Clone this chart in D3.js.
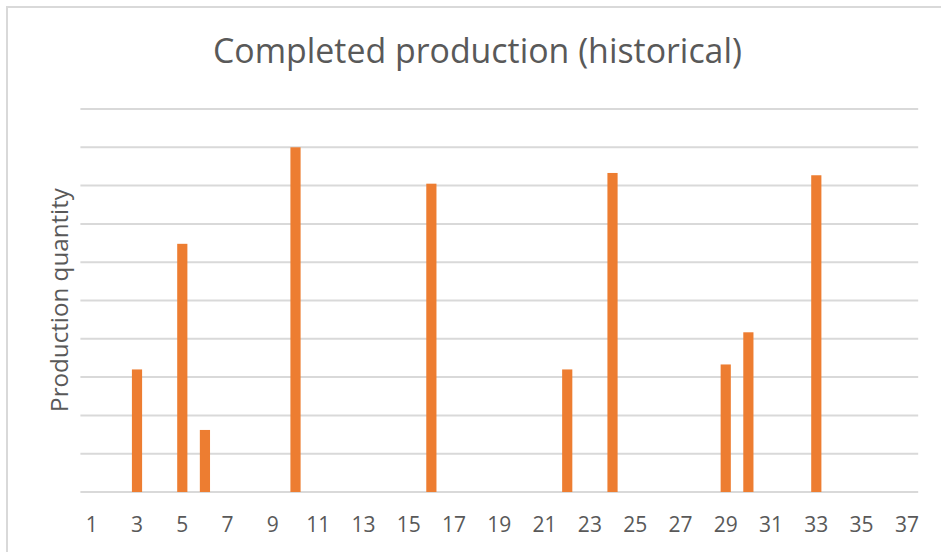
<!DOCTYPE html>
<html>
<head>
<meta charset="utf-8">
<script src="https://cdn.jsdelivr.net/npm/d3@7"></script>
<style>
  html, body { margin: 0; padding: 0; background: #ffffff; }
  svg { display: block; }
</style>
</head>
<body>
<script>
const title = "Completed production (historical)";
const yLabel = "Production quantity";
const categories = ["1","2","3","4","5","6","7","8","9","10","11","12","13","14","15","16","17","18","19","20","21","22","23","24","25","26","27","28","29","30","31","32","33","34","35","36","37"];
const values = [0,0,3.2,0,6.48,1.62,0,0,0,9.0,0,0,0,0,0,8.05,0,0,0,0,0,3.2,0,8.33,0,0,0,0,3.33,4.17,0,0,8.27,0,0,0,0];
const tickLabels = ["1","3","5","7","9","11","13","15","17","19","21","23","25","27","29","31","33","35","37"];
const yTicks = [0,1,2,3,4,5,6,7,8,9,10];

const W = 941, H = 552;
const FONT = "'Open Sans', 'Noto Sans', sans-serif";
const TEXT = "#595959";

const svg = d3.select("body").append("svg").attr("width", W).attr("height", H);

// chart border (top & left visible)
svg.append("path")
  .attr("d", `M7,${H} L7,7 L${W},7`)
  .attr("fill", "none").attr("stroke", "#d9d9d9").attr("stroke-width", 2);

const x = d3.scaleBand().domain(categories).range([80.4, 918.2]).padding(0);
const y = d3.scaleLinear().domain([0, 10]).range([492, 109]);

// gridlines
svg.append("g").selectAll("line").data(yTicks).join("line")
  .attr("x1", x.range()[0]).attr("x2", x.range()[1])
  .attr("y1", d => y(d)).attr("y2", d => y(d))
  .attr("stroke", "#d9d9d9").attr("stroke-width", 2);

// bars
const bw = x.bandwidth() * 0.45;
svg.append("g").selectAll("rect").data(categories.map((c, i) => ({c, v: values[i]})).filter(d => d.v > 0)).join("rect")
  .attr("x", d => x(d.c) + x.bandwidth() / 2 - bw / 2)
  .attr("width", bw)
  .attr("y", d => y(d.v))
  .attr("height", d => y(0) - y(d.v))
  .attr("fill", "#ED7D31");

// x axis labels
const xAxis = d3.axisBottom(x).tickValues(tickLabels).tickSize(0).tickPadding(0);
const gx = svg.append("g").attr("transform", `translate(0,${y(0)})`).call(xAxis);
gx.select(".domain").remove();
gx.selectAll("text")
  .attr("dy", null).attr("y", 40)
  .attr("font-family", FONT).attr("font-size", 21).attr("fill", TEXT);

function fit(sel, target) {
  const len = sel.node().getComputedTextLength();
  const fs = parseFloat(sel.attr("font-size"));
  sel.attr("font-size", fs * target / len);
}

// title
const t = svg.append("text").text(title)
  .attr("x", 477.5).attr("y", 62.5).attr("text-anchor", "middle")
  .attr("font-family", FONT).attr("font-size", 30).attr("fill", TEXT);
fit(t, 529);

// y label
const yl = svg.append("text").text(yLabel)
  .attr("transform", "translate(68,300) rotate(-90)")
  .attr("text-anchor", "middle")
  .attr("font-family", FONT).attr("font-size", 20).attr("fill", TEXT);
fit(yl, 224);
</script>
</body>
</html>
